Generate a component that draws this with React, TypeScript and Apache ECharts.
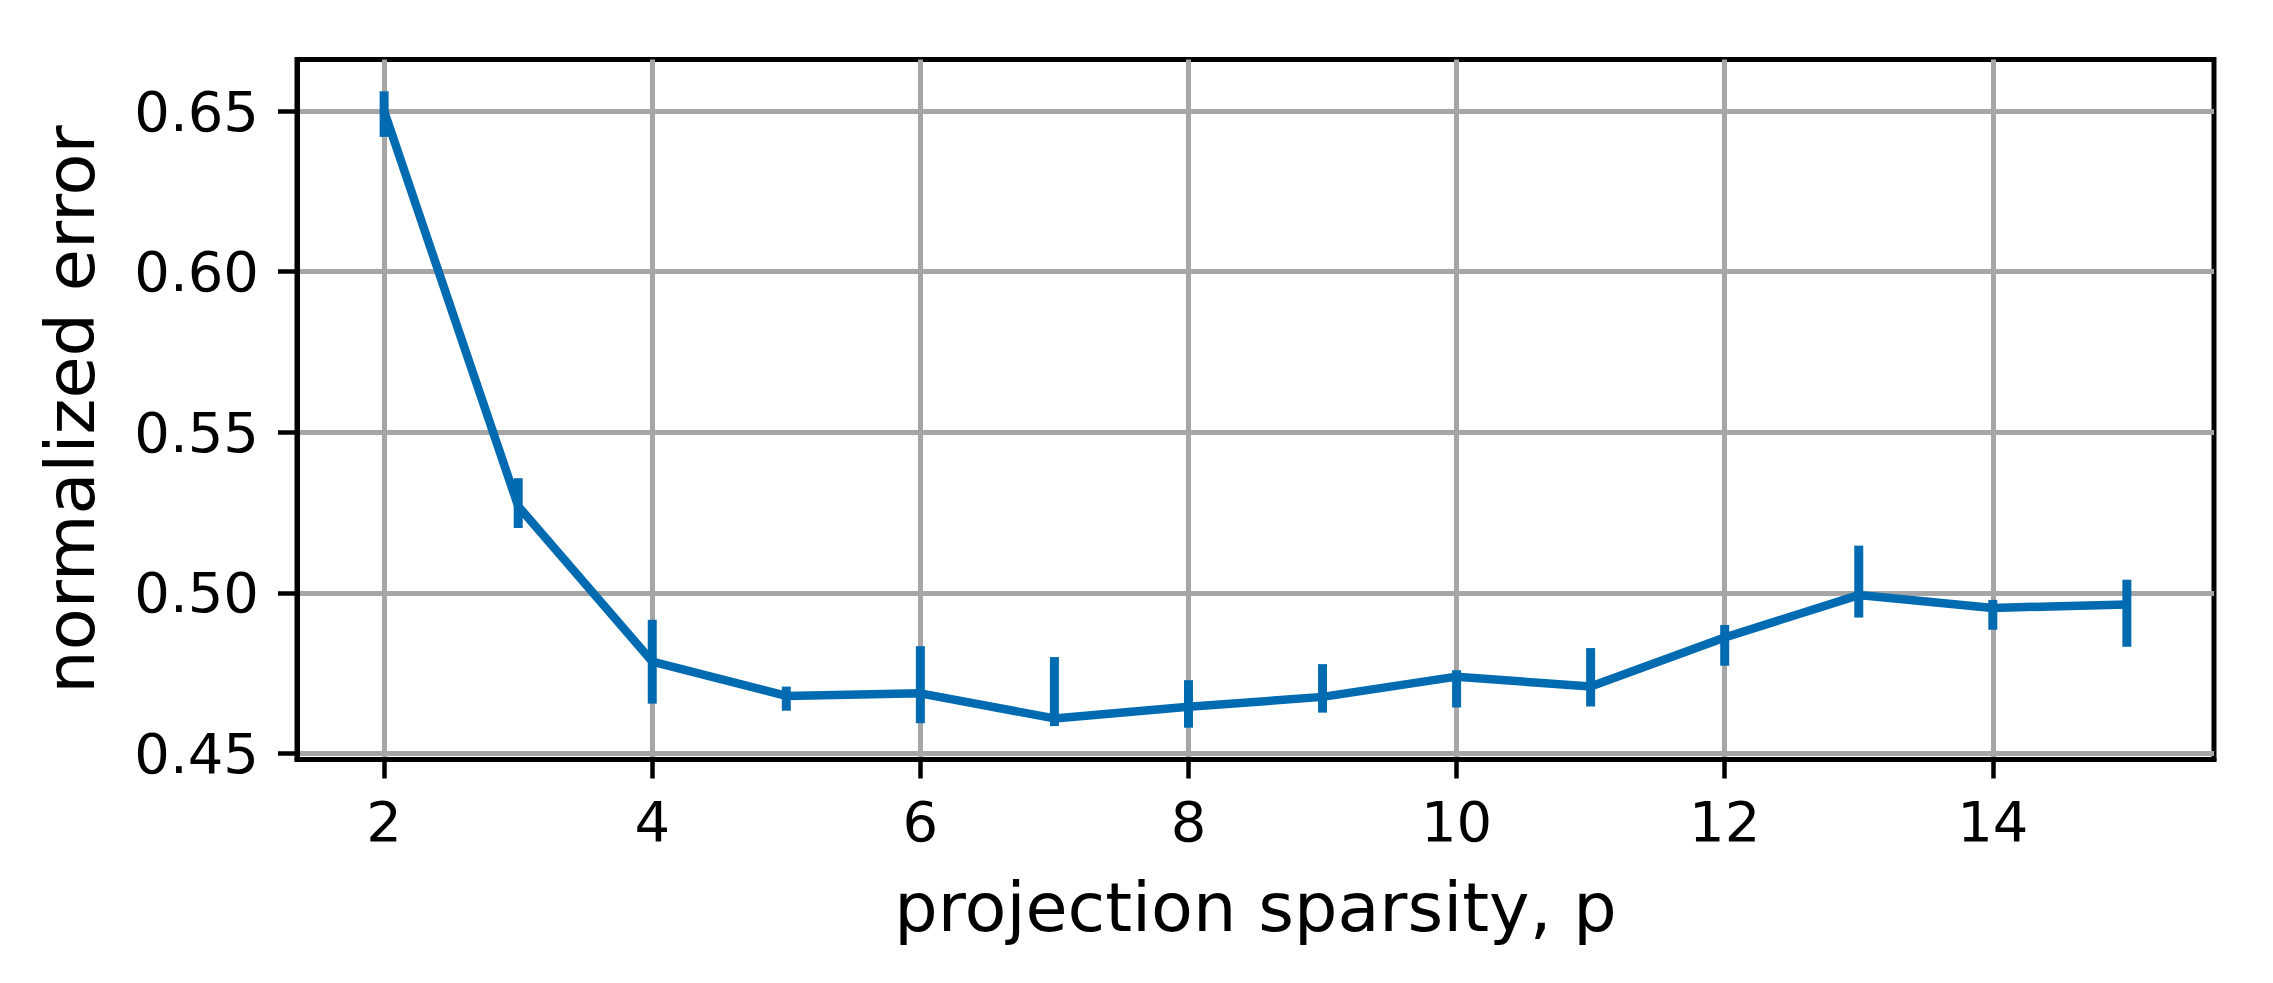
import React, { useEffect, useRef } from "react";
import * as echarts from "echarts";

const xValues = [2, 3, 4, 5, 6, 7, 8, 9, 10, 11, 12, 13, 14, 15];
const meanError = [0.65, 0.527, 0.4786, 0.4679, 0.4687, 0.4609, 0.4645, 0.4676, 0.4739, 0.4708, 0.4861, 0.4993, 0.4953, 0.4964];
const lowerError = [0.642, 0.5202, 0.4655, 0.4633, 0.4594, 0.4585, 0.458, 0.4627, 0.4643, 0.4646, 0.4773, 0.4923, 0.4885, 0.4832];
const upperError = [0.6562, 0.5357, 0.4916, 0.4708, 0.4834, 0.48, 0.4728, 0.4778, 0.4759, 0.4828, 0.49, 0.5147, 0.4978, 0.5041];
const xTicks = [2, 4, 6, 8, 10, 12, 14];
const yTicks = [0.45, 0.5, 0.55, 0.6, 0.65];

const BLUE = "#006bb0";
const FONT = "DejaVu Sans";

export default function App() {
  const ref = useRef<HTMLDivElement>(null);
  useEffect(() => {
    if (!ref.current) return;
    const chart = echarts.init(ref.current, null, { renderer: "svg" });
    chart.setOption({
      animation: false,
      backgroundColor: "#ffffff",
      grid: {
        left: 297,
        right: 59,
        top: 59.5,
        bottom: 223.5,
        show: true,
        borderColor: "#000",
        borderWidth: 5,
        containLabel: false,
        outerBoundsMode: "none",
      },
      xAxis: {
        type: "value",
        min: 1.35,
        max: 15.65,
        name: "projection sparsity, p",
        nameLocation: "middle",
        nameGap: 113,
        nameTextStyle: { fontFamily: FONT, fontSize: 68.5, color: "#000" },
        axisLine: { show: true, lineStyle: { color: "#000", width: 5 } },
        axisTick: { show: true, length: 19, lineStyle: { color: "#000", width: 4.5 }, customValues: xTicks },
        axisLabel: {
          fontFamily: FONT,
          fontSize: 56,
          color: "#000",
          margin: 34,
          customValues: xTicks,
          formatter: (v: number) => String(v),
        },
        splitLine: { show: true, lineStyle: { color: "#a6a6a6", width: 5 } },
      },
      yAxis: {
        type: "value",
        min: 0.4481,
        max: 0.6661,
        name: "normalized error",
        nameLocation: "middle",
        nameGap: 193,
        nameRotate: 90,
        nameTextStyle: { fontFamily: FONT, fontSize: 68.5, color: "#000" },
        axisLine: { show: true, lineStyle: { color: "#000", width: 5 } },
        axisTick: { show: true, length: 19, lineStyle: { color: "#000", width: 4.5 }, customValues: yTicks },
        axisLabel: {
          fontFamily: FONT,
          fontSize: 56,
          color: "#000",
          margin: 38,
          customValues: yTicks,
          formatter: (v: number) => v.toFixed(2),
        },
        splitLine: { show: true, lineStyle: { color: "#a6a6a6", width: 5 } },
      },
      series: [
        {
          type: "line",
          data: xValues.map((x, i) => [x, meanError[i]]),
          showSymbol: false,
          symbol: "none",
          lineStyle: { color: BLUE, width: 8.5 },
          z: 3,
        },
        {
          type: "custom",
          data: xValues.map((x, i) => [x, lowerError[i], upperError[i]]),
          encode: { x: 0, y: [1, 2] },
          z: 4,
          renderItem: (params: any, api: any) => {
            const x = api.value(0);
            const p1 = api.coord([x, api.value(1)]);
            const p2 = api.coord([x, api.value(2)]);
            return {
              type: "line",
              shape: { x1: p1[0], y1: p1[1], x2: p2[0], y2: p2[1] },
              style: { stroke: BLUE, lineWidth: 9 },
            };
          },
        },
      ],
    });
    return () => chart.dispose();
  }, []);
  return (
    <div
      ref={ref}
      style={{ position: "fixed", left: 0, top: 0, width: 2273, height: 983, background: "#fff" }}
    />
  );
}
